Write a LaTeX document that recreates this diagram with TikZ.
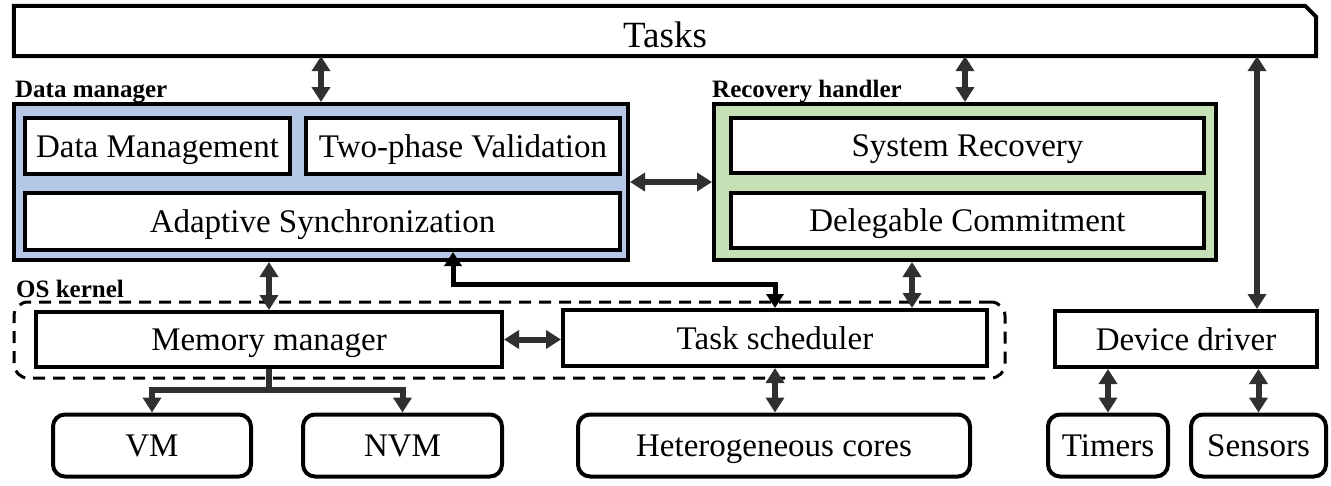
\documentclass[tikz,border=0pt]{standalone}
\usepackage{fontspec}
\setmainfont{Liberation Serif}
\usetikzlibrary{arrows.meta}
\definecolor{dmblue}{HTML}{B4C7E7}
\definecolor{rhgreen}{HTML}{C5E0B4}
\definecolor{arrgray}{HTML}{303030}
\begin{document}
\begin{tikzpicture}[x=1pt,y=-1pt,
  box/.style={draw=black, line width=4pt, fill=white, inner sep=0pt, font=\fontsize{33}{40}\selectfont, text height=29pt, text depth=7pt},
  rbox/.style={box, rounded corners=12pt},
  grp/.style={draw=black, line width=4pt, inner sep=0pt},
  lbl/.style={font=\fontsize{25}{30}\selectfont\bfseries, inner sep=0pt, anchor=base west},
  darr/.style={draw=arrgray, line width=6pt, {Triangle[width=18pt,length=15pt]}-{Triangle[width=18pt,length=15pt]}},
  barr/.style={draw=black, line width=5pt, line join=miter, {Triangle[width=17pt,length=14pt]}-{Triangle[width=17pt,length=14pt]}},
  sarr/.style={draw=arrgray, line width=6pt, line join=miter, -{Triangle[width=18pt,length=15pt]}},
]
\useasboundingbox (0,0) rectangle (1331,485);

% Tasks
\node[inner sep=0pt, minimum width=1302pt, minimum height=50pt, font=\fontsize{37}{44}\selectfont, text height=38pt, text depth=6pt] (tasks) at (665,31) {Tasks};
\draw[line width=4pt] (tasks.south west) -- (tasks.north west) -- ([xshift=-11pt]tasks.north east) -- ([yshift=-11pt]tasks.north east) -- (tasks.south east) -- cycle;

% Data manager
\node[lbl] (dmlbl) at (15,97) {Data manager};
\node[grp, fill=dmblue, minimum width=614pt, minimum height=156pt] (dm) at (321,182) {};
\node[box, minimum width=265pt, minimum height=56pt] (dmg) at (157.5,146) {Data Management};
\node[box, minimum width=314pt, minimum height=56pt] (tpv) at (463,146) {Two-phase Validation};
\node[box, minimum width=595pt, minimum height=57pt] (as) at (322.5,221.5) {Adaptive Synchronization};

% Recovery handler
\node[lbl] (rhlbl) at (712,97) {Recovery handler};
\node[grp, fill=rhgreen, minimum width=502pt, minimum height=156pt] (rh) at (965,182) {};
\node[box, minimum width=473pt, minimum height=55pt] (sr) at (967.5,145.5) {System Recovery};
\node[box, minimum width=473pt, minimum height=55pt] (dc) at (967.5,220.5) {Delegable Commitment};

% OS kernel
\node[lbl] (osklbl) at (16,297) {OS kernel};
\node[draw=black, line width=3pt, dash pattern=on 12pt off 8pt, rounded corners=14pt, inner sep=0pt, minimum width=991pt, minimum height=76pt] (osk) at (509.5,340) {};
\node[box, minimum width=466pt, minimum height=55pt] (mm) at (269,339.5) {Memory manager};
\node[box, minimum width=424pt, minimum height=56pt] (ts) at (775,338) {Task scheduler};

% Device driver
\node[box, minimum width=262pt, minimum height=56pt] (dd) at (1186,339) {Device driver};

% Bottom row
\node[rbox, minimum width=198pt, minimum height=62pt] (vm) at (152,445.5) {VM};
\node[rbox, minimum width=199pt, minimum height=62pt] (nvm) at (402.5,445.5) {NVM};
\node[rbox, minimum width=392pt, minimum height=62pt] (hc) at (774,445.5) {Heterogeneous cores};
\node[rbox, minimum width=120pt, minimum height=62pt] (tm) at (1108,445.5) {Timers};
\node[rbox, minimum width=135pt, minimum height=62pt] (sn) at (1258.5,445.5) {Sensors};

% helper coordinates
\coordinate (xdd) at (1257,0);
\coordinate (xrt) at (912,0);
\coordinate (bendL) at (453,284);
\coordinate (split) at (269,390);

% Connectors
\draw[darr] (tasks.south -| dm.north) -- (dm.north);
\draw[darr] (tasks.south -| rh.north) -- (rh.north);
\draw[darr] (tasks.south -| xdd) -- (dd.north -| xdd);
\draw[darr] (dm.east) -- (rh.west);
\draw[darr] (dm.south -| mm.north) -- (mm.north);
\draw[darr] (rh.south -| xrt) -- (ts.north -| xrt);
\draw[darr] (mm.east) -- (ts.west |- mm.east);
\draw[darr] (ts.south) -- (hc.north -| ts.south);
\draw[darr] (dd.south -| tm.north) -- (tm.north);
\draw[darr] (dd.south -| sn.north) -- (sn.north);
\draw[barr] (as.south -| bendL) -- (bendL) -| (ts.north);
\draw[draw=arrgray, line width=6pt] (mm.south) -- (split);
\draw[sarr] (split) -| (vm.north);
\draw[sarr] (split) -| (nvm.north);
\end{tikzpicture}
\end{document}
